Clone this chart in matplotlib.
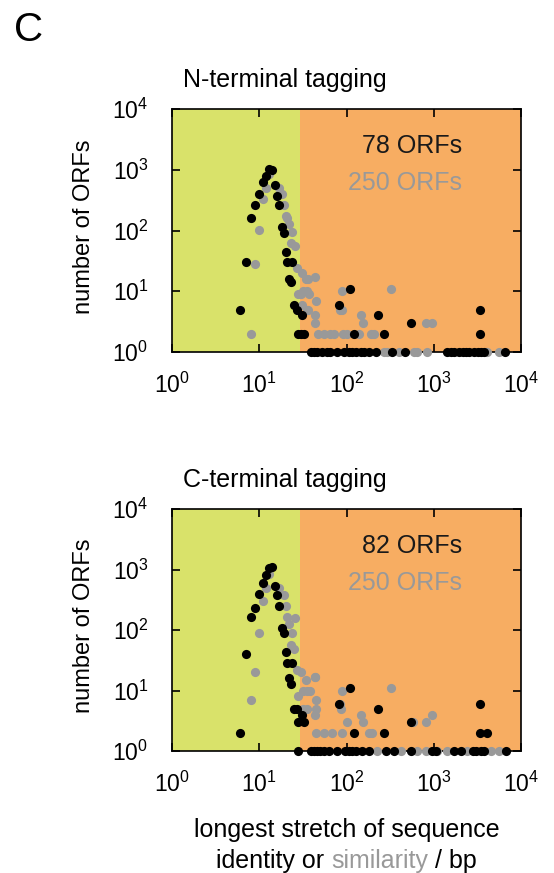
import numpy as np
import matplotlib.pyplot as plt
from matplotlib.ticker import LogLocator, NullLocator

plt.rcParams['font.family'] = ['Liberation Sans', 'DejaVu Sans']
plt.rcParams['mathtext.fontset'] = 'custom'
plt.rcParams['mathtext.rm'] = 'Liberation Sans'

# N-terminal tagging: identity (black) and similarity (grey)
n_id_x = [6, 7, 8, 9, 10, 11, 12, 13, 14, 15, 16, 17, 18, 19, 20, 21, 22, 23, 24,
          25, 27, 31, 28, 30, 33, 82, 109, 123, 231, 268, 544, 3400, 3400,
          39, 42, 46, 53, 60, 65, 78, 93, 106, 116, 127, 145, 158, 180, 215, 335, 464,
          1437, 1567, 1711, 1954, 2137, 2333, 2545, 2904, 3176, 3467, 3788, 6547]
n_id_y = [5, 30, 158, 259, 404, 630, 790, 1020, 1000, 560, 374, 259, 115, 92, 45, 30, 16, 14, 30,
          6, 5, 4, 2, 2, 2, 6, 11, 2, 4, 2, 3, 5, 2,
          1, 1, 1, 1, 1, 1, 1, 1, 1, 1, 1, 1, 1, 1, 1, 1, 1,
          1, 1, 1, 1, 1, 1, 1, 1, 1, 1, 1, 1]
n_sim_x = [8, 9, 10, 11, 12, 13, 17, 18, 19, 20, 21, 22, 23, 24, 26, 27, 31, 34, 36, 44,
           28, 30, 32, 35, 37, 31, 35, 45, 36, 43, 43, 89, 85, 89, 147, 156, 320, 809, 966,
           47, 55, 65, 71, 92, 102, 138, 189, 205,
           268, 293, 400, 590, 650, 840, 4100, 5600]
n_sim_y = [2, 28, 101, 325, 508, 850, 508, 394, 259, 172, 163, 126, 63, 94, 55, 24, 20, 16, 16, 17,
           9, 9, 10, 10, 9, 6, 5, 7, 5, 4, 3, 10, 5, 5, 4, 3, 11, 3, 3,
           2, 2, 2, 2, 2, 2, 2, 2, 2,
           1, 1, 1, 1, 1, 1, 1, 1]

# C-terminal tagging
c_id_x = [6, 7, 8, 9, 10, 11, 12, 13, 14, 15, 16, 17, 18, 19, 20, 21, 22, 23, 24,
          25, 27, 31, 28, 33, 83, 109, 122, 231, 268, 544, 3400, 3400, 4100,
          28, 39, 42, 46, 50, 55, 63, 78, 97, 106, 116, 127, 151, 180, 281, 350, 544,
          966, 1054, 1711, 2044, 2785, 3040, 3467, 3788, 6730]
c_id_y = [2, 40, 162, 234, 389, 592, 811, 1050, 1100, 540, 380, 252, 109, 88, 44, 29, 16, 13, 29,
          5, 5, 4, 3, 3, 6, 11, 2, 5, 2, 3, 6, 2, 2,
          1, 1, 1, 1, 1, 1, 1, 1, 1, 1, 1, 1, 1, 1, 1, 1, 1,
          1, 1, 1, 1, 1, 1, 1, 1, 1]
c_sim_x = [8, 9, 10, 11, 12, 13, 17, 19, 20, 21, 22, 23, 24, 25, 26, 27, 30, 34, 43, 44,
           28, 32, 35, 38, 45, 32, 35, 45, 43, 89, 87, 85, 101, 146, 153, 320, 585, 809, 947,
           45, 55, 68, 89, 180, 197,
           225, 417, 647, 809, 1100, 1437, 2430, 4540, 5620]
c_sim_y = [7, 20, 90, 305, 489, 850, 489, 379, 249, 166, 124, 56, 90, 48, 156, 22, 20, 15, 17, 17,
           8, 10, 10, 10, 7, 5, 5, 5, 4, 10, 5, 6, 3, 4, 3, 11, 3, 3, 4,
           2, 2, 2, 2, 2, 2,
           1, 1, 1, 1, 1, 1, 1, 1, 1]

panels = [
    ('N-terminal tagging', n_id_x, n_id_y, n_sim_x, n_sim_y, '78 ORFs', '250 ORFs'),
    ('C-terminal tagging', c_id_x, c_id_y, c_sim_x, c_sim_y, '82 ORFs', '250 ORFs'),
]
threshold = 29

W, H = 554, 873
fig = plt.figure(figsize=(W / 100, H / 100), dpi=100)
green = '#d9e26a'
orange = '#f7ad62'
grey = '#999999'

boxes = [(172, 109, 521, 352), (172, 509, 521, 751)]
for (l, t, r, b), (title, ix, iy, sx, sy, t1, t2) in zip(boxes, panels):
    ax = fig.add_axes([l / W, 1 - b / H, (r - l) / W, (b - t) / H])
    ax.set_xscale('log')
    ax.set_yscale('log')
    ax.set_xlim(1, 1e4)
    ax.set_ylim(1, 1e4)
    ax.axvspan(1, threshold, color=green, lw=0, zorder=0)
    ax.axvspan(threshold, 1e4, color=orange, lw=0, zorder=0)
    ax.plot(sx, sy, 'o', color=grey, ms=6.6, mew=0, clip_on=False, zorder=3)
    ax.plot(ix, iy, 'o', color='black', ms=6.6, mew=0, clip_on=False, zorder=4)
    ax.xaxis.set_major_locator(LogLocator(base=10, numticks=10))
    ax.yaxis.set_major_locator(LogLocator(base=10, numticks=10))
    ax.xaxis.set_minor_locator(NullLocator())
    ax.yaxis.set_minor_locator(NullLocator())
    ax.tick_params(direction='in', top=True, right=True, length=6, width=1.2,
                   labelsize=16.5, colors='black')
    ax.tick_params(axis='x', pad=15)
    ax.tick_params(axis='y', pad=17)
    for s in ax.spines.values():
        s.set_linewidth(1.2)
        s.set_color('black')
    ax.text(0.83, 0.848, t1, transform=ax.transAxes, ha='right', va='center',
            fontsize=18, color='#1a1a1a')
    ax.text(0.83, 0.695, t2, transform=ax.transAxes, ha='right', va='center',
            fontsize=18, color=grey)
    fig.text(183 / W, 1 - (t - 22) / H, title, ha='left', va='baseline', fontsize=18)
    fig.text(84 / W, 1 - ((t + b) / 2 - 4) / H, 'number of ORFs', rotation=90,
             ha='center', va='center', fontsize=17)

fig.text(14 / W, 1 - 30 / H, 'C', ha='left', va='center', fontsize=29)

fig.text(346.5 / W, 1 - 837 / H, 'longest stretch of sequence', ha='center',
         va='baseline', fontsize=18)

# second line of the x label, with "similarity" in grey
pieces = [('identity or ', 'black'), ('similarity', grey), (' / bp', 'black')]
texts = [fig.text(0, 1 - 868 / H, s, color=c, ha='left', va='baseline', fontsize=18)
         for s, c in pieces]
fig.canvas.draw()
r = fig.canvas.get_renderer()
widths = [tx.get_window_extent(r).width for tx in texts]
x = 346.5 - sum(widths) / 2
for tx, w in zip(texts, widths):
    tx.set_x(x / W)
    x += w

fig.savefig('out.png', dpi=100)
